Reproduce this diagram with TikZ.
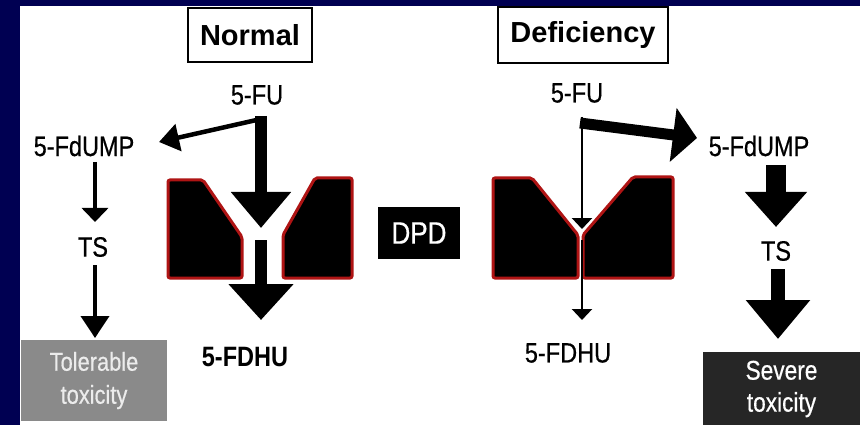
\documentclass[tikz,border=0pt]{standalone}
\usepackage{fontspec}
\setmainfont{Liberation Sans}
\newfontfamily\cond{Liberation Sans}[FakeStretch=0.84,FakeBold=0.5]
\newfontfamily\condb{Liberation Sans Bold}[FakeStretch=0.84]
\usetikzlibrary{arrows.meta,calc}
\definecolor{navy}{RGB}{0,0,82}
\definecolor{enzred}{RGB}{175,20,20}
\definecolor{tolgray}{RGB}{138,138,138}
\definecolor{toltext}{RGB}{236,236,236}
\definecolor{sevgray}{RGB}{38,38,38}
\begin{document}
\begin{tikzpicture}[x=1pt,y=-1pt,
  lbl/.style={font=\cond\fontsize{28}{30}\selectfont, inner sep=0pt},
  lblbold/.style={font=\condb\fontsize{28}{30}\selectfont, inner sep=0pt},
  hdr/.style={draw=black, line width=1.5pt, fill=white, inner sep=0pt,
              font=\bfseries\fontsize{29}{31}\selectfont},
  dpdbox/.style={fill=black, text=white, inner sep=0pt, minimum width=82pt,
              minimum height=52pt, font=\cond\fontsize{31}{33}\selectfont},
  tolbox/.style={fill=tolgray, text=toltext, inner sep=0pt, minimum width=146pt,
              minimum height=81pt, align=center, font=\cond\fontsize{26}{33}\selectfont},
  sevbox/.style={fill=sevgray, text=white, inner sep=0pt, minimum width=157pt,
              minimum height=75pt, align=center, font=\cond\fontsize{27}{32}\selectfont},
  enz/.style={fill=black, draw=enzred, line width=3pt, rounded corners=2pt},
  thinarr/.style={line width=4pt, -{Triangle[length=14pt,width=26pt]}},
  thinarrB/.style={line width=4pt, -{Triangle[length=22pt,width=28pt]}},
  brarr/.style={line width=4.5pt, -{Triangle[length=20pt,width=27pt]}},
  fine/.style={line width=2.5pt, -{Triangle[length=11pt,width=20pt]}},
  bigarr/.style={line width=12pt, -{Triangle[length=36pt,width=58pt]}},
  bigarrB/.style={line width=12pt, -{Triangle[length=36pt,width=63pt]}},
  fatarr/.style={line width=11pt, -{Triangle[length=24pt,width=53pt]}},
  fatarrA/.style={line width=20pt, -{Triangle[length=35pt,width=60pt]}},
  fatarrB/.style={line width=14pt, -{Triangle[length=39pt,width=62pt]}}
]
\useasboundingbox (0,0) rectangle (860,425);
\fill[navy] (0,0) rectangle (860,425);
\fill[white] (20,6) rectangle (860,425);

% enzyme blocks (Normal)
\path[enz] (168,180) -- (203,180) -- (242,237) -- (242,278) -- (168,278) -- cycle;
\path[enz] (315,178) -- (352,178) -- (352,278) -- (283,278) -- (283,235) -- cycle;
% enzyme blocks (Deficiency)
\path[enz] (493,178) -- (532,178) -- (578,235) -- (578,278) -- (493,278) -- cycle;
\path[enz] (633,177) -- (673,177) -- (673,278) -- (583,278) -- (583,235) -- cycle;

% nodes
\node[hdr, minimum width=124pt, minimum height=54pt] (hN) at (250,35) {Normal};
\node[hdr, minimum width=170pt, minimum height=56pt] (hD) at (583,35) {Deficiency};
\node[lbl] (fuL) at (257,95) {5-FU};
\node[lbl] (fuR) at (577,93) {5-FU};
\node[lbl] (fdL) at (84,146) {5-FdUMP};
\node[lbl] (fdR) at (759,146) {5-FdUMP};
\node[lbl] (tsL) at (93,247) {TS};
\node[lbl] (tsR) at (776,251) {TS};
\node[lblbold] (fhL) at (245,357) {5-FDHU};
\node[lbl] (fhR) at (568,353) {5-FDHU};
\node[dpdbox] (dpd) at (419,233) {DPD};
\node[tolbox] (tol) at (94,380.5) {Tolerable\\toxicity};
\node[sevbox] (sev) at (781.5,389) {Severe\\toxicity};

% coordinates (Normal)
\coordinate (topL) at (261,116);
\coordinate (jL) at (261,119);
\coordinate (tipFdL) at (159,142);
\coordinate (tipEnzL) at (261,228);
\coordinate (outL) at (261,240);
\coordinate (tipFhL) at (261,320);
\coordinate (sFdL) at (95,162);
\coordinate (tipTsL) at (95,222);
\coordinate (sTsL) at (95,265);
\coordinate (tipTolL) at (95,338);

% coordinates (Deficiency)
\coordinate (jR) at (582,117);
\coordinate (jR2) at (580,123);
\coordinate (tipFdR) at (697,138);
\coordinate (tipEnzR) at (582,229);
\coordinate (outR) at (582,240);
\coordinate (tipFhR) at (582,320);
\coordinate (sFdR) at (776,165);
\coordinate (tipTsR) at (776,227);
\coordinate (sTsR) at (778,269);
\coordinate (tipSevR) at (778,339);

% Normal arrows
\draw[brarr] (jL) -- (tipFdL);
\draw[bigarr] (topL) -- (tipEnzL);
\draw[bigarrB] (outL) -- (tipFhL);
\draw[thinarr] (sFdL) -- (tipTsL);
\draw[thinarrB] (sTsL) -- (tipTolL);

% Deficiency arrows
\draw[fine] (jR) -- (tipEnzR);
\draw[fatarr] (jR2) -- (tipFdR);
\draw[fine] (outR) -- (tipFhR);
\draw[fatarrA] (sFdR) -- (tipTsR);
\draw[fatarrB] (sTsR) -- (tipSevR);
\end{tikzpicture}
\end{document}
